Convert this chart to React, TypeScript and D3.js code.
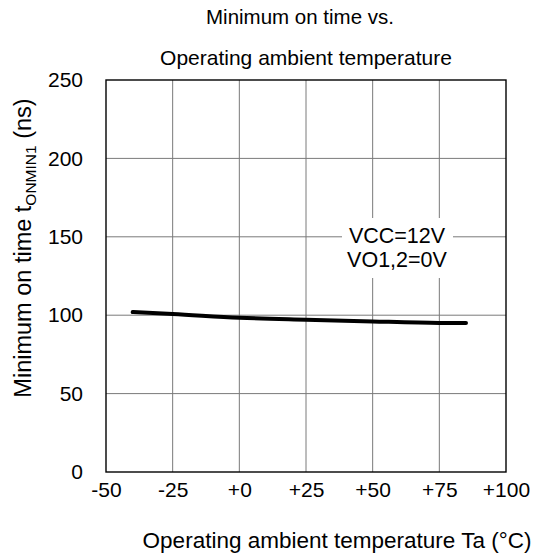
import React, { useRef, useEffect } from 'react';
import * as d3 from 'd3';

// Ta (°C) and tONMIN1 (ns)
const temps = [-40, -25, 0, 25, 50, 75, 85];
const tOnMin = [102, 100.8, 98.4, 97.1, 96, 95.1, 95];
const xTicks = [-50, -25, 0, 25, 50, 75, 100];
const yTicks = [0, 50, 100, 150, 200, 250];
const noteLines = ['VCC=12V', 'VO1,2=0V'];

const FONT = '"Liberation Sans", Arial, sans-serif';

const App = () => {
  const ref = useRef<SVGSVGElement>(null);

  useEffect(() => {
    const svg = d3.select(ref.current);
    svg.selectAll('*').remove();

    const W = 536, H = 556;
    const margin = { top: 80, right: 30, bottom: 84, left: 106 };
    const width = W - margin.left - margin.right;
    const height = H - margin.top - margin.bottom;

    const x = d3.scaleLinear().domain([-50, 100]).range([margin.left, margin.left + width]);
    const y = d3.scaleLinear().domain([0, 250]).range([margin.top + height, margin.top]);

    svg.append('rect').attr('width', W).attr('height', H).attr('fill', '#fff');

    // grid
    const grid = svg.append('g').attr('stroke', '#7a7a7a').attr('stroke-width', 1);
    grid.selectAll('.vx').data(xTicks.slice(1, -1)).join('line')
      .attr('x1', d => x(d)).attr('x2', d => x(d))
      .attr('y1', y(0)).attr('y2', y(250));
    grid.selectAll('.hy').data(yTicks.slice(1, -1)).join('line')
      .attr('x1', x(-50)).attr('x2', x(100))
      .attr('y1', d => y(d)).attr('y2', d => y(d));

    // annotation box hides the grid behind it
    const nb = svg.append('g');
    nb.append('rect')
      .attr('x', 342).attr('y', 218).attr('width', 111).attr('height', 60)
      .attr('fill', '#fff');
    nb.selectAll('text').data(noteLines).join('text')
      .attr('x', 397)
      .attr('y', (d, i) => 243 + i * 24)
      .attr('text-anchor', 'middle')
      .attr('font-family', FONT).attr('font-size', 21.5)
      .text(d => d);

    // frame
    svg.append('rect')
      .attr('x', x(-50)).attr('y', y(250))
      .attr('width', x(100) - x(-50)).attr('height', y(0) - y(250))
      .attr('fill', 'none').attr('stroke', '#000').attr('stroke-width', 1.4);

    // curve
    const line = d3.line<number>()
      .x((d, i) => x(temps[i]))
      .y(d => y(d))
      .curve(d3.curveMonotoneX);
    svg.append('path').datum(tOnMin)
      .attr('fill', 'none').attr('stroke', '#000').attr('stroke-width', 4)
      .attr('stroke-linecap', 'round')
      .attr('d', line);

    // axes labels
    const fmtX = (d: number) => (d < 0 ? `${d}` : `+${d}`);
    const xAxis = svg.append('g')
      .attr('transform', `translate(0,${y(0)})`)
      .call(d3.axisBottom(x).tickValues(xTicks).tickFormat(d => fmtX(+d)).tickSize(0).tickPadding(10));
    xAxis.select('.domain').remove();
    xAxis.selectAll('text').attr('font-family', FONT).attr('font-size', 21).attr('fill', '#000');

    const yAxis = svg.append('g')
      .attr('transform', `translate(${x(-50)},0)`)
      .call(d3.axisLeft(y).tickValues(yTicks).tickSize(0).tickPadding(23));
    yAxis.select('.domain').remove();
    yAxis.selectAll('text').attr('font-family', FONT).attr('font-size', 21).attr('fill', '#000');

    // titles
    svg.append('text').attr('x', 300).attr('y', 24).attr('text-anchor', 'middle')
      .attr('font-family', FONT).attr('font-size', 20.5).text('Minimum on time vs.');
    svg.append('text').attr('x', 306).attr('y', 65).attr('text-anchor', 'middle')
      .attr('font-family', FONT).attr('font-size', 21).text('Operating ambient temperature');

    svg.append('text').attr('x', 337).attr('y', 548).attr('text-anchor', 'middle')
      .attr('font-family', FONT).attr('font-size', 22.5).text('Operating ambient temperature Ta (°C)');

    const yt = svg.append('text')
      .attr('transform', `translate(31,248) rotate(-90)`)
      .attr('text-anchor', 'middle')
      .attr('font-family', FONT).attr('font-size', 23.5);
    yt.append('tspan').text('Minimum on time t');
    yt.append('tspan').attr('font-size', 15.5).attr('dy', 5).text('ONMIN1');
    yt.append('tspan').attr('dy', -5).text(' (ns)');
  }, []);

  return (
    <svg
      ref={ref}
      width={536}
      height={556}
      style={{ position: 'absolute', left: 0, top: 0, display: 'block' }}
    />
  );
};

export default App;
